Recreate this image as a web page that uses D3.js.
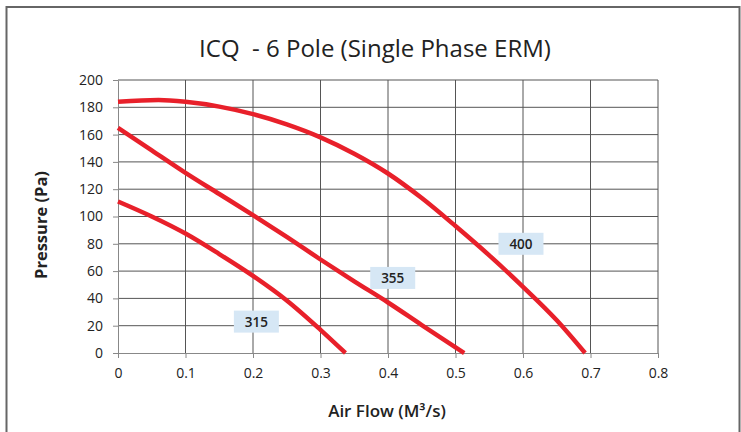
<!DOCTYPE html>
<html>
<head>
<meta charset="utf-8">
<script src="https://cdn.jsdelivr.net/npm/d3@7"></script>
<style>
  body { margin: 0; background: #fff; }
  svg { display: block; }
</style>
</head>
<body>
<div id="chart"></div>
<script>
// curve data: [air flow m3/s, pressure Pa]
var fan315 = [[0, 111], [0.05, 100], [0.1, 87.5], [0.15, 72.5], [0.2, 56.5], [0.25, 38.5], [0.3, 17], [0.337, 0]];
var fan355 = [[0, 165], [0.05, 148.5], [0.1, 132], [0.15, 116.5], [0.2, 101], [0.25, 85], [0.3, 68.5], [0.35, 52.5], [0.4, 37], [0.45, 20.5], [0.513, 0]];
var fan400 = [[0, 184], [0.06, 185.3], [0.1, 184], [0.15, 180.5], [0.2, 175], [0.25, 167.5], [0.3, 158], [0.35, 146], [0.4, 131.5], [0.45, 113.5], [0.5, 93], [0.55, 71.5], [0.6, 48.5], [0.65, 24], [0.692, 0]];

var seriesNames = ["315", "355", "400"];
var labelPos = [[0.205, 23], [0.407, 55], [0.597, 80]];

var xTicks = [0, 0.1, 0.2, 0.3, 0.4, 0.5, 0.6, 0.7, 0.8];
var yTicks = [0, 20, 40, 60, 80, 100, 120, 140, 160, 180, 200];

var W = 741, H = 432;
var margin = {top: 80, right: 83, bottom: 79, left: 118};
var width = W - margin.left - margin.right,
    height = H - margin.top - margin.bottom;

var svg = d3.select("#chart").append("svg")
  .attr("width", W)
  .attr("height", H);

// outer frame
svg.append("rect")
  .attr("x", 6.5).attr("y", 7)
  .attr("width", 733).attr("height", 440)
  .attr("fill", "none")
  .attr("stroke", "#666")
  .attr("stroke-width", 2);

svg.append("text")
  .attr("x", 375).attr("y", 57)
  .attr("text-anchor", "middle")
  .attr("font-family", "Open Sans")
  .attr("font-size", 24)
  .attr("fill", "#222")
  .style("white-space", "pre")
  .text("ICQ  - 6 Pole (Single Phase ERM)");

var g = svg.append("g")
  .attr("transform", "translate(" + margin.left + "," + margin.top + ")");

var x = d3.scaleLinear().domain([0, 0.8]).range([0, width]);
var y = d3.scaleLinear().domain([0, 200]).range([height, 0]);

// grid
g.selectAll(".vgrid").data(xTicks.slice(1)).enter().append("line")
  .attr("x1", function(d) { return x(d); })
  .attr("x2", function(d) { return x(d); })
  .attr("y1", 0).attr("y2", height)
  .attr("stroke", "#555").attr("stroke-width", 1);

g.selectAll(".hgrid").data(yTicks.slice(1)).enter().append("line")
  .attr("x1", 0).attr("x2", width)
  .attr("y1", function(d) { return y(d); })
  .attr("y2", function(d) { return y(d); })
  .attr("stroke", "#555").attr("stroke-width", 1);

var xAxis = g.append("g")
  .attr("transform", "translate(0," + height + ")")
  .call(d3.axisBottom(x).tickValues(xTicks).tickFormat(function(d) { return d === 0 ? "0" : d3.format(".1f")(d); }).tickSizeInner(5).tickSizeOuter(0).tickPadding(10));

var yAxis = g.append("g")
  .call(d3.axisLeft(y).tickValues(yTicks).tickSizeInner(5).tickSizeOuter(0).tickPadding(10));

[xAxis, yAxis].forEach(function(a) {
  a.select(".domain").attr("stroke", "#888");
  a.selectAll(".tick line").attr("stroke", "#888");
  a.selectAll("text")
    .attr("font-family", "Open Sans")
    .attr("font-size", 14)
    .attr("fill", "#222");
});

// curves
var line = d3.line()
  .x(function(d) { return x(d[0]); })
  .y(function(d) { return y(d[1]); })
  .curve(d3.curveMonotoneX);

[fan315, fan355, fan400].forEach(function(s) {
  g.append("path")
    .attr("d", line(s))
    .attr("fill", "none")
    .attr("stroke", "#e8202a")
    .attr("stroke-width", 4.5);
});

// size labels
seriesNames.forEach(function(name, i) {
  var p = labelPos[i];
  g.append("rect")
    .attr("x", x(p[0]) - 22.5).attr("y", y(p[1]) - 11)
    .attr("width", 45).attr("height", 22)
    .attr("fill", "#d6e7f5");
  g.append("text")
    .attr("x", x(p[0])).attr("y", y(p[1]) + 5)
    .attr("text-anchor", "middle")
    .attr("font-family", "Open Sans")
    .attr("font-weight", 600)
    .attr("font-size", 13.5)
    .attr("fill", "#222")
    .text(name);
});

// axis titles
svg.append("text")
  .attr("x", 387).attr("y", 417)
  .attr("text-anchor", "middle")
  .attr("font-family", "Open Sans")
  .attr("font-weight", 600)
  .attr("font-size", 17)
  .attr("fill", "#222")
  .text("Air Flow (M³/s)");

svg.append("text")
  .attr("transform", "translate(47,225) rotate(-90)")
  .attr("text-anchor", "middle")
  .attr("font-family", "Open Sans")
  .attr("font-weight", 700)
  .attr("font-size", 16.5)
  .attr("fill", "#222")
  .text("Pressure (Pa)");
</script>
</body>
</html>
